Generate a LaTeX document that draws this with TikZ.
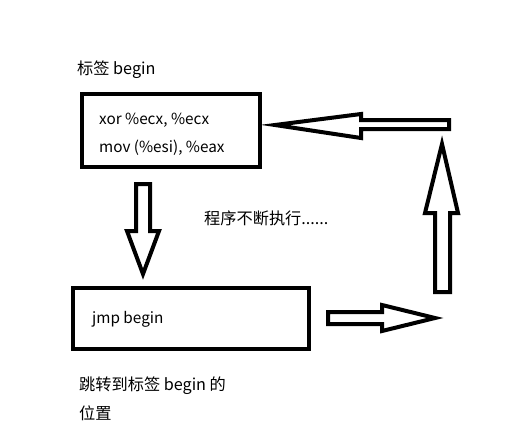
\documentclass[tikz,border=0pt]{standalone}
\usepackage{fontspec}
\setmainfont{Noto Sans CJK SC}
\begin{document}
\begin{tikzpicture}[x=1pt,y=-1pt,
  boxline/.style={draw=black,line width=4pt},
  blockarrow/.style={draw=black,fill=white,line width=4pt,line join=miter},
  txt/.style={anchor=base west,inner sep=0pt,font=\fontsize{15.3}{18}\selectfont},
  cjktxt/.style={txt,font=\fontsize{16.2}{19}\selectfont}]
\useasboundingbox (0,0) rectangle (509,440);
\fill[white] (0,0) rectangle (509,440);
% boxes
\draw[boxline] (82,94) rectangle (260,167);
\draw[boxline] (73,288) rectangle (309,349);
% texts
\node[cjktxt] (lbl) at (77,74) {标签 begin};
\node[txt] (xor) at (99,124) {xor \%ecx, \%ecx};
\node[txt] (mov) at (99,152.5) {mov (\%esi), \%eax};
\node[cjktxt] (loop) at (204,224) {程序不断执行......};
\node[txt] (jmp) at (92,323) {jmp begin};
\node[cjktxt] (jl1) at (79,390.5) {跳转到标签 begin 的};
\node[cjktxt] (jl2) at (79,419) {位置};
% down arrow
\draw[blockarrow] (136,184) -- (150,184) -- (150,231) -- (159,231) -- (143,274) -- (127,231) -- (136,231) -- cycle;
% left arrow (top)
\draw[blockarrow] (275,125) -- (361,114) -- (361,120) -- (449,120) -- (449,129) -- (361,129) -- (361,138) -- cycle;
% up arrow (right)
\draw[blockarrow] (442,144) -- (458,213) -- (450,213) -- (450,292) -- (435,292) -- (435,213) -- (425,213) -- cycle;
% right arrow (bottom)
\draw[blockarrow] (328,312) -- (382,312) -- (382,305) -- (435,318) -- (382,331) -- (382,324) -- (328,324) -- cycle;
\end{tikzpicture}
\end{document}
